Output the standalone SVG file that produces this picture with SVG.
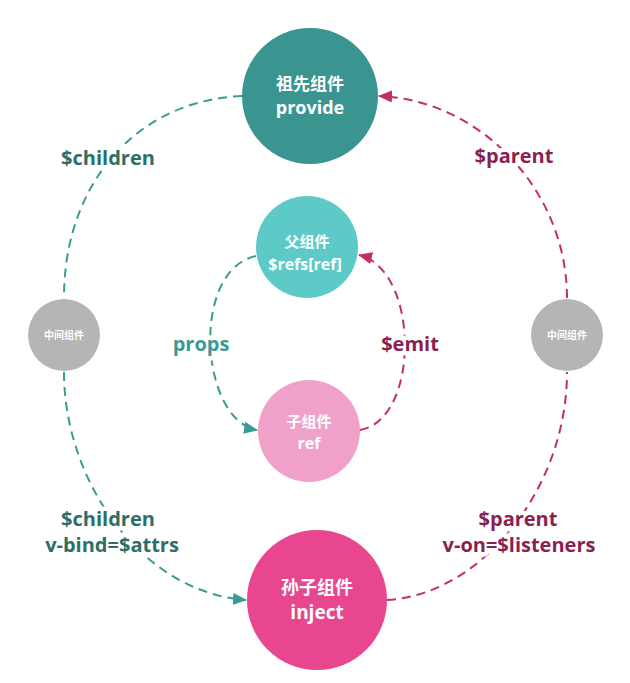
<svg xmlns="http://www.w3.org/2000/svg" width="630" height="683" viewBox="0 0 630 683">
<style>
.t{font-family:"Open Sans","Noto Sans CJK SC",sans-serif;font-weight:bold;text-anchor:middle}
.w{fill:#ffffff}
.lbl{font-size:20px;paint-order:stroke;stroke:#ffffff;stroke-width:9px;stroke-linejoin:round}
.teal{fill:none;stroke:#3a9a94;stroke-width:2;stroke-dasharray:9 6}
.red{fill:none;stroke:#c42f62;stroke-width:2;stroke-dasharray:9 6}
</style>
<defs>
<marker id="at" markerUnits="userSpaceOnUse" markerWidth="16" markerHeight="14" refX="13" refY="6" orient="auto">
<path d="M0,0 L14,6 L0,12 Z" fill="#3a9a94"/>
</marker>
<marker id="ar" markerUnits="userSpaceOnUse" markerWidth="16" markerHeight="14" refX="13" refY="6" orient="auto">
<path d="M0,0 L14,6 L0,12 Z" fill="#c42f62"/>
</marker>
</defs>
<rect width="630" height="683" fill="#ffffff"/>
<g id="connectors">
<path class="teal" d="M242,96 C140,100 64,180 64,298"/>
<path class="teal" d="M64,372 C64,480 140,592 246,600" marker-end="url(#at)"/>
<path class="red" d="M387,600 C480,595 567,490 567,372"/>
<path class="red" d="M567,298 C567,190 480,100 379,96" marker-end="url(#ar)"/>
<path class="teal" d="M256,256 C190,270 200,420 257,430" marker-end="url(#at)"/>
<path class="red" d="M360,430 C420,420 420,270 359,255" marker-end="url(#ar)"/>
</g>
<g id="labels">
<text class="t lbl" x="108" y="165" fill="#2d6e67">$children</text>
<text class="t lbl" x="514" y="163" fill="#8a1f50">$parent</text>
<text class="t lbl" x="201" y="351" fill="#3a9a94">props</text>
<text class="t lbl" x="410" y="351" fill="#8a1f50">$emit</text>
<text class="t lbl" x="108" y="526" fill="#2d6e67">$children</text>
<text class="t lbl" x="112" y="552" fill="#2d6e67">v-bind=$attrs</text>
<text class="t lbl" x="518" y="526" fill="#8a1f50">$parent</text>
<text class="t lbl" x="519" y="552" fill="#8a1f50">v-on=$listeners</text>
</g>
<g id="ancestor">
<circle cx="310" cy="96" r="68" fill="#3a9490"/>
<text class="t w" x="310" y="90" font-size="17">祖先组件</text>
<text class="t w" x="310" y="114" font-size="18">provide</text>
</g>
<g id="parent">
<circle cx="307" cy="247" r="51" fill="#5ecac8"/>
<text class="t w" x="307" y="247" font-size="15">父组件</text>
<text class="t w" x="305" y="270" font-size="16">$refs[ref]</text>
</g>
<g id="child">
<circle cx="309" cy="431" r="51" fill="#f0a1c9"/>
<text class="t w" x="309" y="427" font-size="15">子组件</text>
<text class="t w" x="309" y="449" font-size="16">ref</text>
</g>
<g id="grandchild">
<circle cx="317" cy="600" r="70" fill="#e8468f"/>
<text class="t w" x="317" y="594" font-size="18">孙子组件</text>
<text class="t w" x="317" y="619" font-size="19">inject</text>
</g>
<g id="middle-left">
<circle cx="64" cy="335" r="36" fill="#b5b5b5"/>
<text class="t w" x="64" y="339" font-size="10">中间组件</text>
</g>
<g id="middle-right">
<circle cx="567" cy="335" r="36" fill="#b5b5b5"/>
<text class="t w" x="567" y="339" font-size="10">中间组件</text>
</g>
</svg>
